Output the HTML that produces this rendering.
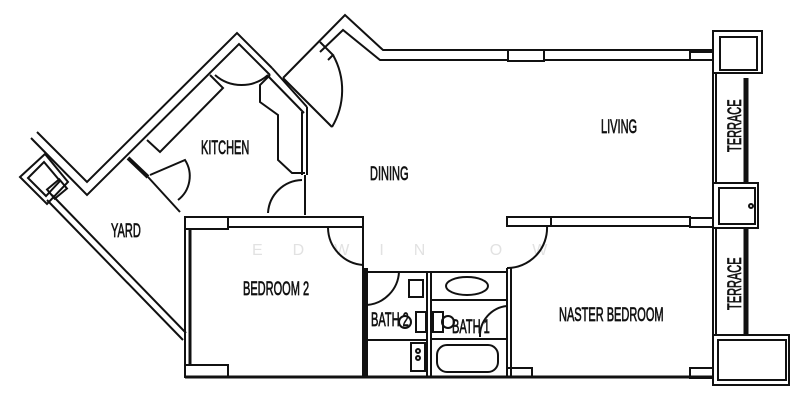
<!DOCTYPE html>
<html><head><meta charset="utf-8"><style>
html,body{margin:0;padding:0;background:#fff;}
svg{display:block}
text{font-family:"Liberation Sans",sans-serif;fill:#111;}
</style></head><body>
<svg width="800" height="413" viewBox="0 0 800 413" xmlns="http://www.w3.org/2000/svg">
<rect width="800" height="413" fill="#fff"/>
<text x="252" y="255" font-size="16" style="fill:#e2e2e2" letter-spacing="30">EDWIN OW</text>
<g fill="none" stroke="#111" stroke-width="2" stroke-linejoin="miter">
<polyline points="37,132 87,182 237,33 272,68"/>
<polyline points="31,138 87,195 239,44 270,75"/>
<line x1="272" y1="68" x2="307" y2="107"/>
<line x1="268" y1="76" x2="304" y2="113"/>
<line x1="307" y1="107" x2="307" y2="175"/>
<line x1="302" y1="112" x2="302" y2="175"/>
<line x1="305" y1="175" x2="305" y2="215"/>
<polyline points="210,75 223,88 160,152 147,140"/>
<line x1="128" y1="158" x2="148" y2="177" stroke-width="4"/>
<line x1="148" y1="177" x2="180" y2="212"/>
<polyline points="270,75 260,85 260,102 278,115 278,160 292,173 305,173"/>
<path d="M215,75 A40,40 0 0 0 268,75"/>
<path d="M150,175 L185,160 A30,30 0 0 1 178,200"/>
<path d="M268,213 A35,35 0 0 1 302,180"/>
<polygon points="20,177 45,154 68,182 47,204"/>
<polygon points="28,178 44,162 60,181 46,196"/>
<rect x="49" y="183" width="16" height="12" transform="rotate(-40 57 189)"/>
<line x1="47" y1="200" x2="183" y2="340"/>
<line x1="52" y1="195" x2="186" y2="333"/>
<rect x="185" y="217" width="178" height="160"/>
<rect x="185" y="217" width="43" height="12"/>
<rect x="185" y="365" width="43" height="12"/>
<line x1="190" y1="229" x2="190" y2="365" stroke-width="3"/>
<polyline points="228,217 363,217 363,227 228,227"/>
<path d="M328,228 A38,38 0 0 0 363,265"/>
<polyline points="283,78 345,15 383,50 508,50"/>
<polyline points="320,52 343,30 380,60 508,60"/>
<line x1="283" y1="78" x2="332" y2="127"/>
<polyline points="320,42 333,55 328,60"/>
<path d="M333,55 A72,72 0 0 1 332,127"/>
<rect x="508" y="50" width="36" height="11"/>
<polyline points="544,50 713,50 713,60 544,60"/>
<rect x="690" y="52" width="23" height="8"/>
<rect x="713" y="31" width="49" height="42"/>
<rect x="720" y="37" width="37" height="33"/>
<rect x="713" y="183" width="45" height="45"/>
<rect x="719" y="188" width="36" height="36"/>
<circle cx="751" cy="206" r="2"/>
<rect x="713" y="335" width="76" height="50"/>
<rect x="718" y="340" width="68" height="40"/>
<line x1="713" y1="73" x2="713" y2="183"/>
<line x1="716" y1="73" x2="716" y2="183"/>
<line x1="746" y1="78" x2="746" y2="183" stroke-width="5"/>
<line x1="713" y1="228" x2="713" y2="335"/>
<line x1="716" y1="228" x2="716" y2="335"/>
<line x1="746" y1="228" x2="746" y2="335" stroke-width="5"/>
<rect x="507" y="217" width="44" height="9"/>
<polyline points="551,217 690,217 690,226 551,226"/>
<rect x="690" y="218" width="23" height="9"/>
<path d="M547,226 A40,40 0 0 1 507,268"/>
<line x1="507" y1="268" x2="507" y2="377"/>
<line x1="511" y1="268" x2="511" y2="377"/>
<rect x="507" y="368" width="25" height="9"/>
<rect x="690" y="368" width="23" height="10"/>
<line x1="185" y1="377" x2="713" y2="377" stroke-width="3"/>
<line x1="367" y1="268" x2="367" y2="377"/>
<line x1="365" y1="268" x2="365" y2="377"/>
<line x1="367" y1="272" x2="507" y2="272"/>
<line x1="427" y1="272" x2="427" y2="377"/>
<line x1="431" y1="272" x2="431" y2="377"/>
<line x1="431" y1="300" x2="507" y2="300"/>
<line x1="367" y1="340" x2="427" y2="340"/>
<line x1="431" y1="339" x2="507" y2="339"/>
<ellipse cx="467" cy="286" rx="21" ry="9"/>
<rect x="437" y="345" width="61" height="27" rx="10"/>
<rect x="409" y="280" width="14" height="17"/>
<rect x="411" y="343" width="14" height="28"/>
<circle cx="418" cy="351" r="2"/><circle cx="418" cy="358" r="2"/>
<path d="M367,305 A35,35 0 0 0 399,272"/>
<path d="M480,337 A30,30 0 0 1 507,306"/>
<rect x="416" y="312" width="10" height="20"/>
<rect x="433" y="312" width="10" height="20"/>
<circle cx="405" cy="322" r="6"/>
<circle cx="448" cy="322" r="6"/>
</g>
<g font-size="19" stroke="#111" stroke-width="0.7">
<text x="0" y="0" transform="translate(201,154) scale(0.58,1)">KITCHEN</text>
<text x="0" y="0" transform="translate(370,180) scale(0.58,1)">DINING</text>
<text x="0" y="0" transform="translate(601,133) scale(0.58,1)">LIVING</text>
<text x="0" y="0" transform="translate(111,237) scale(0.58,1)">YARD</text>
<text x="0" y="0" transform="translate(243,295) scale(0.58,1)">BEDROOM 2</text>
<text x="0" y="0" transform="translate(559,321) scale(0.58,1)">NASTER BEDROOM</text>
<text x="0" y="0" transform="translate(371,326) scale(0.58,1)">BATH 2</text>
<text x="0" y="0" transform="translate(452,333) scale(0.58,1)">BATH 1</text>
<text x="0" y="0" transform="translate(741,152) rotate(-90) scale(0.58,1)">TERRACE</text>
<text x="0" y="0" transform="translate(741,310) rotate(-90) scale(0.58,1)">TERRACE</text>
</g>
</svg>
</body></html>
